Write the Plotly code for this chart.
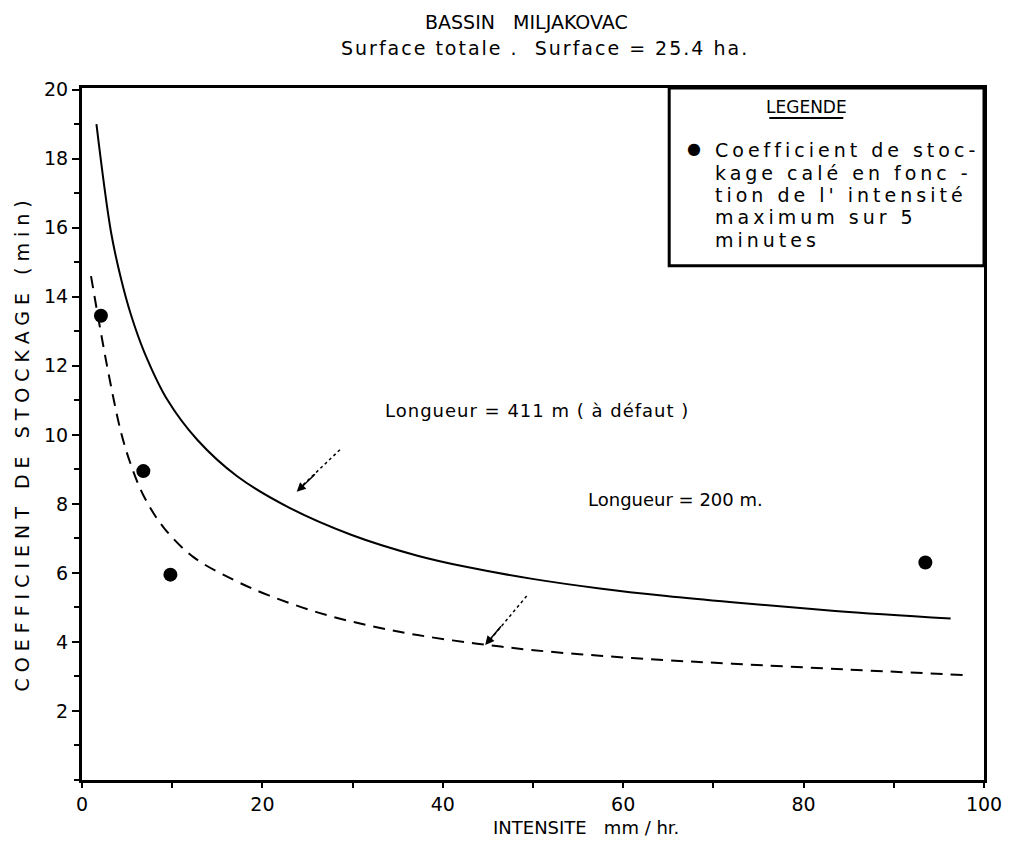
import plotly.graph_objects as go

# curve "Longueur = 411 m (a defaut)"
x_411 = [1.6, 3.2, 4.3, 5.4, 6.9, 9.5, 12.8, 17.2, 22.9, 29.9, 37.2, 42.7, 50.1, 57.4, 64.8, 72.1, 83.5, 96.3]
y_411 = [19.0, 15.9, 14.55, 13.5, 12.4, 11.0, 9.85, 8.8, 7.9, 7.1, 6.5, 6.17, 5.82, 5.55, 5.33, 5.15, 4.9, 4.68]

# curve "Longueur = 200 m"
x_200 = [1.0, 2.0, 3.0, 4.3, 5.4, 6.9, 9.1, 12.4, 16.8, 20.7, 26.2, 31.7, 37.2, 43.8, 50.1, 57.4, 64.8, 72.1, 85.0, 97.8]
y_200 = [14.6, 13.1, 11.7, 10.1, 9.15, 8.2, 7.3, 6.45, 5.8, 5.35, 4.85, 4.48, 4.2, 3.95, 3.76, 3.6, 3.47, 3.37, 3.2, 3.04]

# calibrated storage coefficients
x_pts = [2.1, 6.8, 9.8, 93.5]
y_pts = [13.45, 8.95, 5.95, 6.3]

x_ticks = [0, 20, 40, 60, 80, 100]
y_ticks = [2, 4, 6, 8, 10, 12, 14, 16, 18, 20]

legend_lines = ["Coefficient de stoc-", "kage calé en fonc -", "tion de l' intensité",
                "maximum sur 5", "minutes"]

FONT = "DejaVu Sans"


def spaced(text, px):
    return '<span style="letter-spacing:%dpx">%s</span>' % (px, text)


fig = go.Figure()
fig.add_trace(go.Scatter(x=x_411, y=y_411, mode="lines",
                         line=dict(color="black", width=2, shape="spline", smoothing=1.0),
                         showlegend=False, hoverinfo="skip"))
fig.add_trace(go.Scatter(x=x_200, y=y_200, mode="lines",
                         line=dict(color="black", width=2, dash="12px,8px", shape="spline", smoothing=1.0),
                         showlegend=False, hoverinfo="skip"))
fig.add_trace(go.Scatter(x=x_pts, y=y_pts, mode="markers", marker=dict(color="black", size=14),
                         showlegend=False))

# legend box
fig.add_shape(type="rect", x0=65.1, x1=100, y0=14.9, y1=20.05, line=dict(color="black", width=3), fillcolor="white")
fig.add_annotation(x=80.3, y=19.5, text="LEGENDE", showarrow=False, font=dict(family=FONT, size=17))
fig.add_shape(type="line", x0=76.2, x1=84.4, y0=19.18, y1=19.18, line=dict(color="black", width=2))
fig.add_annotation(x=67.8, y=18.3, text="●", showarrow=False, font=dict(family=FONT, size=16))
for i, t in enumerate(legend_lines):
    fig.add_annotation(x=70.0, y=18.25 - i * 0.65, text=spaced(t, 4), xanchor="left", showarrow=False,
                       font=dict(family=FONT, size=19))

# curve labels and dotted arrows
fig.add_annotation(x=33.4, y=10.72, text=spaced("Longueur = 411 m ( à défaut )", 1), xanchor="left",
                   showarrow=False, font=dict(family=FONT, size=18))
fig.add_annotation(x=55.9, y=8.12, text="Longueur = 200 m.", xanchor="left", showarrow=False,
                   font=dict(family=FONT, size=18))
fig.add_shape(type="line", x0=28.6, y0=9.57, x1=24.3, y1=8.5, line=dict(color="black", width=1.5, dash="dot"))
fig.add_annotation(x=23.8, y=8.35, ax=26.0, ay=8.9, axref="x", ayref="y", showarrow=True,
                   arrowhead=2, arrowsize=1.2, arrowwidth=1.5, arrowcolor="black", text="")
fig.add_shape(type="line", x0=49.3, y0=5.33, x1=45.2, y1=4.05, line=dict(color="black", width=1.5, dash="dot"))
fig.add_annotation(x=44.7, y=3.91, ax=46.6, ay=4.5, axref="x", ayref="y", showarrow=True,
                   arrowhead=2, arrowsize=1.2, arrowwidth=1.5, arrowcolor="black", text="")

# titles
fig.add_annotation(x=0.493, y=1.095, xref="paper", yref="paper", text="BASSIN   MILJAKOVAC",
                   xanchor="center", yanchor="middle", showarrow=False, font=dict(family=FONT, size=19))
fig.add_annotation(x=0.513, y=1.058, xref="paper", yref="paper",
                   text=spaced("Surface totale .  Surface = 25.4 ha.", 2),
                   xanchor="center", yanchor="middle", showarrow=False, font=dict(family=FONT, size=19))
fig.add_annotation(x=-0.066, y=0.487, xref="paper", yref="paper", text=spaced("COEFFICIENT DE STOCKAGE (min)", 6),
                   textangle=-90, xanchor="center", yanchor="middle", showarrow=False,
                   font=dict(family=FONT, size=19))
fig.add_annotation(x=0.559, y=-0.069, xref="paper", yref="paper", text="INTENSITE   mm / hr.",
                   xanchor="center", yanchor="middle", showarrow=False, font=dict(family=FONT, size=18))

fig.update_xaxes(range=[0, 100], tickvals=x_ticks, ticks="outside", ticklen=5, tickwidth=1.5, tickcolor="black",
                 minor=dict(dtick=10, ticks="outside", ticklen=5, tickcolor="black"),
                 showline=True, linecolor="black", linewidth=3, mirror=True, showgrid=False, zeroline=False,
                 tickfont=dict(family=FONT, size=19, color="black"))
fig.update_yaxes(range=[0, 20.05], tickvals=y_ticks, ticks="outside", ticklen=7, tickwidth=1.5, tickcolor="black",
                 minor=dict(dtick=1, ticks="outside", ticklen=5, tickcolor="black"),
                 showline=True, linecolor="black", linewidth=3, mirror=True, showgrid=False, zeroline=False,
                 tickfont=dict(family=FONT, size=19, color="black"))

# the page body adds an 8px offset, so the figure is 8px smaller and shifted
fig.update_layout(width=1006, height=836, margin=dict(l=74, r=24, t=80, b=64),
                  plot_bgcolor="white", paper_bgcolor="white", font=dict(family=FONT, color="black"))

fig.write_html("out.html")
